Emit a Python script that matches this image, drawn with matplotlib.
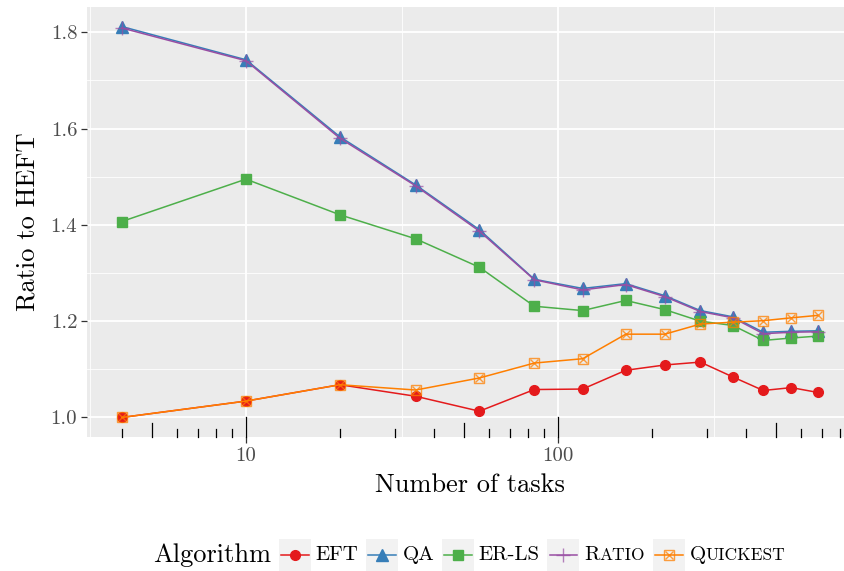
import numpy as np
import matplotlib
matplotlib.use("Agg")
import matplotlib.pyplot as plt
from matplotlib.lines import Line2D
from matplotlib.patches import Rectangle
from matplotlib.offsetbox import AnchoredOffsetbox, HPacker, TextArea, DrawingArea

plt.rcParams['font.family'] = 'cmr10'
plt.rcParams['mathtext.fontset'] = 'cm'
plt.rcParams['axes.formatter.use_mathtext'] = True

# ratio to HEFT for each algorithm vs. number of tasks
tasks = [4, 10, 20, 35, 56, 84, 120, 165, 220, 286, 364, 455, 560, 680]
eft = [1.000, 1.034, 1.068, 1.044, 1.013, 1.058, 1.059, 1.098, 1.109, 1.115, 1.084, 1.056, 1.062, 1.052]
qa = [1.812, 1.743, 1.583, 1.483, 1.390, 1.287, 1.268, 1.278, 1.253, 1.222, 1.209, 1.177, 1.179, 1.180]
erls = [1.407, 1.495, 1.421, 1.371, 1.312, 1.231, 1.222, 1.243, 1.224, 1.200, 1.191, 1.160, 1.165, 1.169]
ratio = [1.809, 1.741, 1.580, 1.481, 1.387, 1.286, 1.265, 1.276, 1.251, 1.220, 1.207, 1.174, 1.177, 1.178]
quickest = [1.000, 1.034, 1.068, 1.057, 1.082, 1.113, 1.122, 1.173, 1.173, 1.194, 1.198, 1.201, 1.207, 1.212]

y_ticks = [1.0, 1.2, 1.4, 1.6, 1.8]
x_ticks = [10, 100]

red, blue, green, purple, orange = '#E41A1C', '#377EB8', '#4DAF4A', '#984EA3', '#FF7F00'

W, H = 844, 571
fig = plt.figure(figsize=(W / 100, H / 100), dpi=100)

# ggplot-like data range with 5% expansion on log10 x
lx = np.log10([min(tasks), max(tasks)])
pad = 0.05 * (lx[1] - lx[0])
xlim = (10 ** (lx[0] - pad), 10 ** (lx[1] + pad))
ally = eft + qa + erls + ratio + quickest
ypad = 0.05 * (max(ally) - min(ally))
ylim = (min(ally) - ypad, max(ally) + ypad)

left, top, bottom = 87, 7, 437
ppd = 312  # pixels per decade
width = ppd * (lx[1] - lx[0] + 2 * pad)
ax = fig.add_axes([left / W, 1 - bottom / H, width / W, (bottom - top) / H])
ax.set_xscale('log')
ax.set_xlim(xlim)
ax.set_ylim(ylim)
ax.set_facecolor('#EBEBEB')
for s in ax.spines.values():
    s.set_visible(False)

# grid
for v in np.arange(1.1, 1.85, 0.2):
    ax.axhline(v, color='white', lw=0.6, zorder=0)
for v in y_ticks:
    ax.axhline(v, color='white', lw=1.3, zorder=0)
for v in [10 ** 0.5, 10 ** 1.5, 10 ** 2.5]:
    ax.axvline(v, color='white', lw=0.6, zorder=0)
for v in x_ticks:
    ax.axvline(v, color='white', lw=1.3, zorder=0)

# series
ax.plot(tasks, eft, color=red, lw=1.1, marker='o', ms=7, zorder=3)
ax.plot(tasks, qa, color=blue, lw=1.1, marker='^', ms=8, zorder=3)
ax.plot(tasks, erls, color=green, lw=1.1, marker='s', ms=6.8, zorder=3)
ax.plot(tasks, ratio, color=purple, lw=1.1, zorder=3)
ax.plot(tasks, ratio, ls='none', marker='+', ms=10, mew=1.0, color=purple, alpha=0.7, zorder=3)
ax.plot(tasks, quickest, color=orange, lw=1.1, zorder=3)
ax.plot(tasks, quickest, ls='none', marker='s', ms=7, mfc='none', mec=orange, mew=1.0, alpha=0.75, zorder=3)
ax.plot(tasks, quickest, ls='none', marker='x', ms=5.5, mec=orange, mew=1.0, alpha=0.75, zorder=3)

# log ticks along the bottom of the panel
panel_h = bottom - top
for d in [1, 10, 100, 1000]:
    for k in range(1, 10):
        v = k * d
        if not (xlim[0] <= v <= xlim[1]):
            continue
        L = 20 if k == 1 else (14 if k == 5 else 8)
        ax.plot([v, v], [0, L / panel_h], color='black', lw=0.9,
                transform=ax.get_xaxis_transform(), clip_on=False, zorder=2)

ax.set_yticks(y_ticks)
ax.set_yticklabels([f'{v:.1f}' for v in y_ticks])
ax.set_xticks(x_ticks)
ax.set_xticklabels([str(v) for v in x_ticks])
ax.xaxis.set_minor_locator(matplotlib.ticker.NullLocator())
ax.tick_params(axis='both', length=4, width=0.9, color='#333333',
               labelcolor='#4D4D4D', labelsize=15, pad=3)

ax.set_xlabel('Number of tasks', fontsize=19, labelpad=6)
ax.set_ylabel('Ratio to HEFT', fontsize=19, labelpad=8)

# legend along the bottom
def key_box(color, kind):
    da = DrawingArea(23, 23, 0, 0)
    da.add_artist(Rectangle((0, 0), 23, 23, fc='#F2F2F2', ec='none'))
    da.add_artist(Line2D([1.5, 21.5], [11.5, 11.5], color=color, lw=1.1))
    if kind == 'o':
        da.add_artist(Line2D([11.5], [11.5], marker='o', ms=7, color=color))
    elif kind == '^':
        da.add_artist(Line2D([11.5], [11.5], marker='^', ms=8, color=color))
    elif kind == 's':
        da.add_artist(Line2D([11.5], [11.5], marker='s', ms=6.8, color=color))
    elif kind == '+':
        da.add_artist(Line2D([11.5], [11.5], marker='+', ms=10, mew=1.0, color=color, alpha=0.7))
    else:
        da.add_artist(Line2D([11.5], [11.5], marker='s', ms=7, mfc='none', mec=color, mew=1.0, alpha=0.75))
        da.add_artist(Line2D([11.5], [11.5], marker='x', ms=5.5, mec=color, mew=1.0, alpha=0.75))
    return da


def label(text, small=None):
    big = TextArea(text, textprops=dict(fontsize=15))
    if small is None:
        return big
    sm = TextArea(small, textprops=dict(fontsize=12.5))
    return HPacker(children=[big, sm], align='baseline', pad=0, sep=0)


entries = [
    (red, 'o', label('EFT')),
    (blue, '^', label('QA')),
    (green, 's', label('ER-LS')),
    (purple, '+', label('R', 'ATIO')),
    (orange, 'q', label('Q', 'UICKEST')),
]
items = [TextArea('Algorithm', textprops=dict(fontsize=19))]
for color, kind, lab in entries:
    items.append(HPacker(children=[key_box(color, kind), lab], align='center', pad=0, sep=3.5))
legend_box = HPacker(children=items, align='center', pad=0, sep=5.5)
anch = AnchoredOffsetbox(loc='center left', child=legend_box, pad=0, borderpad=0,
                         frameon=False, bbox_to_anchor=(153 / W, 1 - 555 / H),
                         bbox_transform=fig.transFigure)
fig.add_artist(anch)

fig.savefig('out.png', dpi=100)
